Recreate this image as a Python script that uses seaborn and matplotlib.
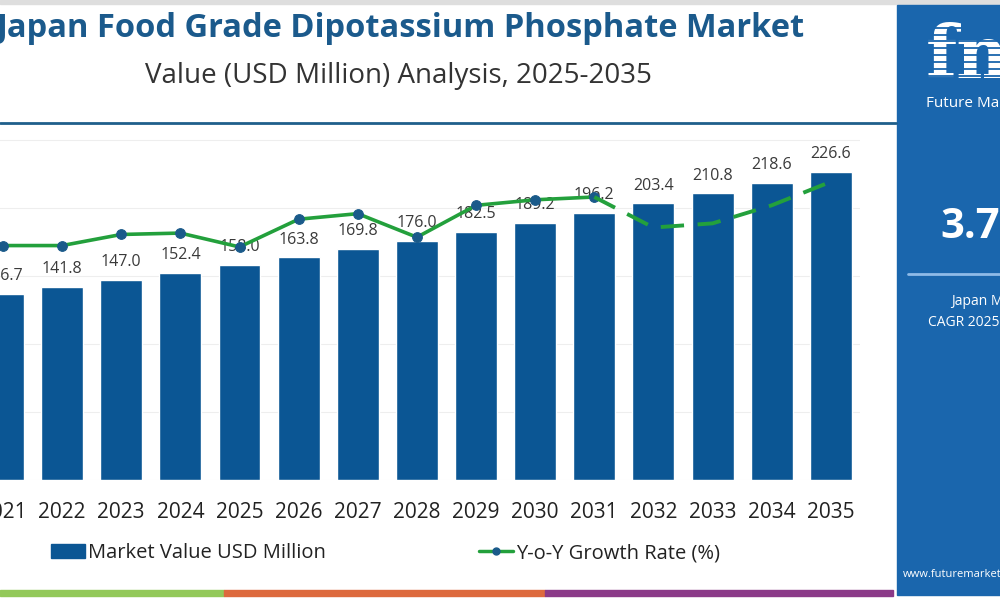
import numpy as np
import seaborn as sns
import matplotlib.pyplot as plt
from matplotlib.patches import Rectangle
from matplotlib.lines import Line2D

# DATA
years = ['2021', '2022', '2023', '2024', '2025', '2026', '2027', '2028',
         '2029', '2030', '2031', '2032', '2033', '2034', '2035']
market_value = [136.7, 141.8, 147.0, 152.4, 158.0, 163.8, 169.8, 176.0,
                182.5, 189.2, 196.2, 203.4, 210.8, 218.6, 226.6]
# growth line as drawn (percent), solid to 2031 then dashed forecast
growth_rate = [3.69, 3.69, 3.77, 3.78, 3.68, 3.88, 3.92, 3.75,
               3.98, 4.02, 4.04, 3.82, 3.85, 3.98, 4.15]
split = 10  # index of 2031

BAR = '#0b5694'
GREEN = '#23a03c'
MARK = '#1a5a8a'
SIDE = '#1a66ad'

sns.set_style('white')
plt.rcParams['font.family'] = ['Open Sans', 'DejaVu Sans']

fig = plt.figure(figsize=(10, 6), dpi=100)
fig.patch.set_facecolor('white')

# main axes (left edge runs off the canvas like the reference crop)
ax = fig.add_axes([-0.0266, 0.2, 0.887, 0.578])
sns.barplot(x=years, y=market_value, color=BAR, width=0.71, saturation=1, ax=ax)
ax.set_ylim(0, 255)
ax.set_xlim(-0.5, len(years) - 0.5)
ax.set_yticks([0, 50, 100, 150, 200, 250])
ax.yaxis.grid(True, color='#eeeeee', lw=0.8)
ax.set_axisbelow(True)
ax.tick_params(axis='y', left=False, labelleft=False)
ax.tick_params(axis='x', length=0, labelsize=15, labelcolor='#222222', pad=16)
ax.set_xticks(np.arange(len(years)) + 0.5, minor=True)
ax.tick_params(axis='x', which='minor', length=4, color='#d8c8c8')
ax.set_xlabel('')
ax.set_ylabel('')
for s in ax.spines.values():
    s.set_visible(False)
ax.bar_label(ax.containers[0], labels=[f'{v:.1f}' for v in market_value],
             padding=7, fontsize=11.5, color='#3a3a3a')

# growth line on twin axis
ax2 = ax.twinx()
xs = np.arange(len(years))
sns.lineplot(x=xs[:split + 1], y=growth_rate[:split + 1], ax=ax2, color=GREEN,
             lw=2.6, marker='o', markersize=7, markerfacecolor=MARK,
             markeredgecolor=MARK)
sns.lineplot(x=xs[split:], y=growth_rate[split:], ax=ax2, color=GREEN,
             lw=2.8, dashes=(6, 3.5))
ax2.set_ylim(2.0, 4.5)
ax2.set_axis_off()

# titles
fig.text(0.40, 0.952, 'Japan Food Grade Dipotassium Phosphate Market', ha='center',
         va='center', fontsize=23.5, fontweight='bold', color='#1b5a8c')
fig.text(0.398, 0.873, 'Value (USD Million) Analysis, 2025-2035', ha='center',
         va='center', fontsize=20, color='#333333')
fig.add_artist(Line2D([0, 0.896], [0.795, 0.795], transform=fig.transFigure,
                      color='#1f5f8b', lw=2))
fig.patches.append(Rectangle((0, 0.993), 1, 0.007, transform=fig.transFigure,
                             color='#dedede'))

# legend
handles = [Rectangle((0, 0), 1, 1, color=BAR),
           Line2D([], [], color=GREEN, lw=2.5, marker='o', markersize=5,
                  markerfacecolor=MARK, markeredgecolor=MARK)]
fig.legend(handles, ['Market Value USD Million', 'Y-o-Y Growth Rate (%)'],
           loc='center left', bbox_to_anchor=(0.051, 0.078), ncol=2, frameon=False,
           fontsize=14.5, columnspacing=7.6, handlelength=1.7, handletextpad=0.15,
           labelcolor='#222222', borderpad=0, borderaxespad=0)

# bottom colour strip
for x0, x1, c in [(0, 0.224, '#93c95a'), (0.224, 0.545, '#dd6a3e'),
                  (0.545, 0.893, '#8b3a88')]:
    fig.patches.append(Rectangle((x0, 0.006), x1 - x0, 0.011,
                                 transform=fig.transFigure, color=c))

# right side panel
fig.patches.append(Rectangle((0.897, 0.008), 0.2, 0.984, transform=fig.transFigure,
                             color=SIDE))
fig.text(0.926, 0.905, 'fmi', fontsize=52, fontweight='bold', family='DejaVu Serif',
         color='white', va='center', ha='left', zorder=3)
# stripes through the logo
for yy in np.arange(0.862, 0.955, 0.0115):
    fig.add_artist(Line2D([0.92, 1.0], [yy, yy], transform=fig.transFigure,
                          color=SIDE, lw=1.3, zorder=5))
fig.text(0.926, 0.828, 'Future Market Insights', fontsize=11, color='white',
         va='center', ha='left')
fig.text(0.940, 0.62, '3.7%', fontsize=30, fontweight='bold', color='white',
         va='center', ha='left')
fig.add_artist(Line2D([0.908, 1.0], [0.543, 0.543], transform=fig.transFigure,
                      color='#8fbbe8', lw=2))
fig.text(0.951, 0.497, 'Japan Market', fontsize=10, color='white', va='center',
         ha='left')
fig.text(0.928, 0.463, 'CAGR 2025-2035', fontsize=10, color='white', va='center',
         ha='left')
fig.text(0.903, 0.042, 'www.futuremarketinsights.com', fontsize=8, color='white',
         va='center', ha='left')

fig.savefig('out.png', dpi=100, facecolor='white')
